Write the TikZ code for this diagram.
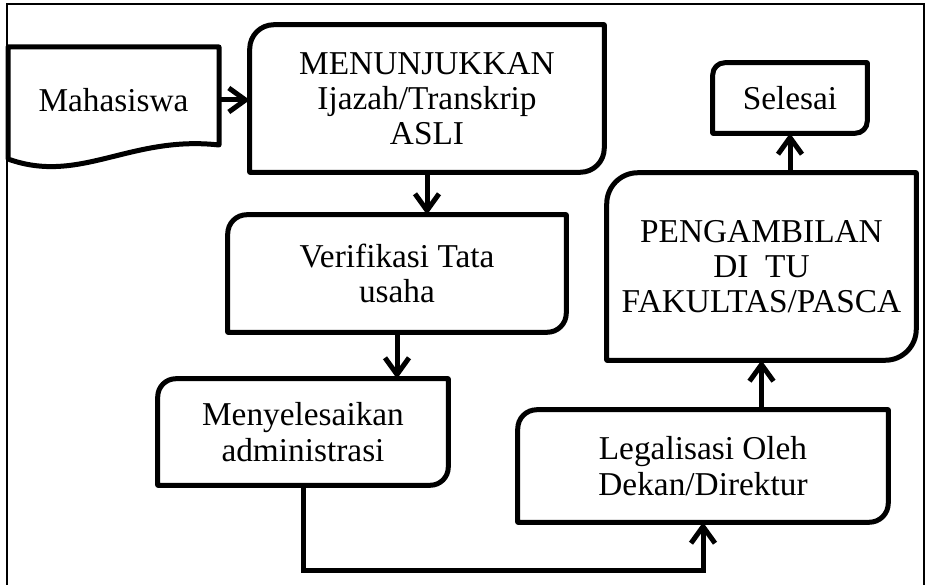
\documentclass[tikz,border=0pt]{standalone}
\usepackage{fontspec}
\setmainfont{Liberation Serif}
\usetikzlibrary{arrows.meta}

\begin{document}
\begin{tikzpicture}[x=0.75pt, y=-0.75pt,
    txt/.style={align=center, inner sep=0pt, font=\fontsize{25}{26.5}\selectfont},
    edge/.style={line width=3.75pt, line join=round},
    arr/.style={line width=3.75pt, -{Straight Barb[length=12.5pt, width=18pt]}},
    frame/.style={line width=1.1pt}]
    \useasboundingbox (0,0) rectangle (928,585);

    % outer frame
    \draw[frame] (7,585) -- (7,4) -- (924,4) -- (924,585);

    % steps
    \node[txt, minimum width=158.25pt, minimum height=79.5pt] (mhs) at (113.5,100) {Mahasiswa};
    \node[txt, minimum width=265.5pt, minimum height=110.25pt] (tunjuk) at (427,98.5) {MENUNJUKKAN\\Ijazah/Transkrip\\ASLI};
    \node[txt, minimum width=253.5pt, minimum height=87.75pt] (verif) at (397,273.5) {Verifikasi Tata\\usaha};
    \node[txt, minimum width=217.5pt, minimum height=79.5pt] (admin) at (303,432) {Menyelesaikan\\administrasi};
    \node[txt, minimum width=277.5pt, minimum height=84pt] (legal) at (703,466) {Legalisasi Oleh\\Dekan/Direktur};
    \node[txt, minimum width=231.75pt, minimum height=140.25pt] (ambil) at (761.5,266.5) {PENGAMBILAN\\DI\ \ TU\\FAKULTAS/PASCA};
    \node[txt, minimum width=115.5pt, minimum height=52.5pt] (selesai) at (790,98) {Selesai};

    % document shape
    \draw[edge] (8,47) -- (219,47) -- (219,145) .. controls (130,135) and (80,185) .. (8,159) -- cycle;

    % boxes with two rounded corners
    \foreach \n/\r in {tunjuk/18pt, verif/14.25pt, admin/13.5pt, legal/14.25pt, ambil/23.25pt, selesai/9pt}
      \draw[edge] (\n.north) [rounded corners=\r] -- (\n.north west) -- (\n.west)
        [sharp corners] -- (\n.south west) -- (\n.south)
        [rounded corners=\r] -- (\n.south east) -- (\n.east)
        [sharp corners] -- (\n.north east) -- cycle;

    % flow
    \draw[arr] (mhs.east) -- (tunjuk.west |- mhs.east);
    \draw[arr] (tunjuk.south) -- (verif.north -| tunjuk.south);
    \draw[arr] (verif.south) -- (admin.north -| verif.south);
    \draw[arr] (admin.south) -- ++(0,85) -| (legal.south);
    \draw[arr] (legal.north -| ambil.south) -- (ambil.south);
    \draw[arr] (ambil.north -| selesai.south) -- (selesai.south);

\end{tikzpicture}
\end{document}
